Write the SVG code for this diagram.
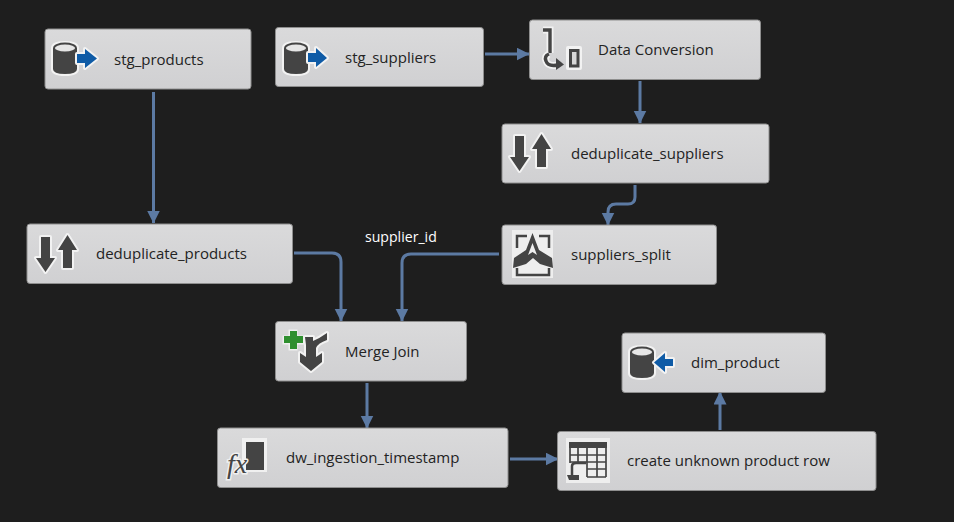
<svg xmlns="http://www.w3.org/2000/svg" xmlns:xlink="http://www.w3.org/1999/xlink" width="954" height="522" viewBox="0 0 954 522">
<style>
.box{fill:url(#bg);stroke:#8e8e8e;stroke-width:1}
.t{font-family:"Open Sans","Noto Sans","Liberation Sans",sans-serif;font-size:15px;fill:#232323}
.l{font-family:"Open Sans","Noto Sans","Liberation Sans",sans-serif;font-size:14.1px;fill:#ffffff}
.c{fill:none;stroke:#5c7aa3;stroke-width:3;marker-end:url(#a)}
.h{fill:#f2f2f2;stroke:#f2f2f2;stroke-width:4;stroke-linejoin:round}
.hl{fill:none;stroke:#f2f2f2;stroke-width:7}
.d{fill:#444444}
.dl{fill:none;stroke:#444444;stroke-width:3.4}
.g{fill:none;stroke:#444444;stroke-width:1.7}
.s{fill:none;stroke:#444444;stroke-width:2.5}
.b{fill:#0f5ba6}
</style>
<defs>
<linearGradient id="bg" x1="0" y1="0" x2="0" y2="1"><stop offset="0" stop-color="#dadadb"/><stop offset="1" stop-color="#d0d0d2"/></linearGradient>
<marker id="a" markerUnits="userSpaceOnUse" markerWidth="14" markerHeight="14" refX="12.5" refY="6.5" orient="auto"><path d="M0 0L13 6.5L0 13z" fill="#5c7aa3"/></marker>
<g id="cyl">
<path class="h" d="M0 5Q0 0 12 0Q24 0 24 5V26Q24 31 12 31Q0 31 0 26z"/>
<path class="d" d="M0 5H24V26Q24 31 12 31Q0 31 0 26z"/>
<ellipse cx="12" cy="5" rx="11" ry="4.500" fill="#e6e6e6" stroke="#444444" stroke-width="1.800"/>
</g>
<g id="updown">
<path class="h" d="M7 1H16V22H21L11.500 36L2 22H7z"/><path class="h" d="M29 32H38V14H43L33.500 -1L24 14H29z"/>
<path class="d" d="M7 1H16V22H21L11.500 36L2 22H7z"/><path class="d" d="M29 32H38V14H43L33.500 -1L24 14H29z"/>
</g>
</defs>
<rect width="954" height="522" fill="#1e1e1e"/>
<g id="connectors">
<path class="c" d="M153.500 92V223"/>
<path class="c" d="M485 54H529"/>
<path class="c" d="M640 81V123"/>
<path class="c" d="M635 185V197Q635 204 628 204H616Q608 204 608 212V225"/>
<path class="c" d="M294 253H332Q341 253 341 262V321"/>
<path class="c" d="M499 254H411Q402 254 402 263V321"/>
<path class="c" d="M367 383V428"/>
<path class="c" d="M510 459H558"/>
<path class="c" d="M720 430V392"/>
</g>
<text class="l" x="365" y="242">supplier_id</text>
<g id="stg_products">
<rect class="box" x="45" y="29" width="206" height="60" rx="3"/>
<use xlink:href="#cyl" x="53" y="43"/>
<path class="h" d="M77 54H85V49L97 58.500L85 68V63H77z"/><path class="b" d="M77 54H85V49L97 58.500L85 68V63H77z"/>
<text class="t" x="114" y="65">stg_products</text>
</g>
<g id="stg_suppliers">
<rect class="box" x="275.500" y="27.500" width="208" height="59" rx="3"/>
<use xlink:href="#cyl" x="284" y="43"/>
<path class="h" d="M308 53H316V48L327 58L316 67V62H308z"/><path class="b" d="M308 53H316V48L327 58L316 67V62H308z"/>
<text class="t" x="345" y="63">stg_suppliers</text>
</g>
<g id="data_conversion">
<rect class="box" x="529.500" y="20" width="231" height="59.500" rx="3"/>
<path class="hl" d="M543 30H550V53"/><rect class="h" x="568" y="48" width="12" height="20"/>
<path class="dl" d="M543 30H550V53"/>
<path class="hl" d="M549 54Q544 56 546 61Q548 67 558 65"/>
<path class="dl" d="M549 54Q544 56 546 61Q548 67 558 65"/><path class="d" d="M556 58L564 64.500L556 70z"/>
<rect x="570.500" y="50.500" width="7.500" height="15.500" fill="#d8d8d8" stroke="#444444" stroke-width="3"/>
<text class="t" x="598" y="55">Data Conversion</text>
</g>
<g id="deduplicate_suppliers">
<rect class="box" x="502" y="124" width="267" height="59" rx="3"/>
<use xlink:href="#updown" x="508" y="135"/>
<text class="t" x="571" y="159">deduplicate_suppliers</text>
</g>
<g id="deduplicate_products">
<rect class="box" x="27" y="224" width="265.500" height="59.500" rx="3"/>
<use xlink:href="#updown" x="34" y="236"/>
<text class="t" x="96" y="259">deduplicate_products</text>
</g>
<g id="suppliers_split">
<rect class="box" x="502" y="225" width="214.500" height="59.500" rx="3"/>
<rect x="512" y="230" width="41" height="48" fill="#eeeeee"/>
<path class="s" d="M527 236H517V248M539 236H549V248M517 268V275H549V268"/>
<path class="d" d="M532.500 233L539 250L552 258L553 268L540 264L533 258L526 264L513 268L514 258L526 250z"/>
<path d="M532.500 243L528 255L532.500 252L537 255z" fill="#eeeeee"/>
<text class="t" x="571" y="260">suppliers_split</text>
</g>
<g id="merge_join">
<rect class="box" x="275.500" y="321.500" width="191" height="59.500" rx="3"/>
<path class="h" d="M305 337H313V341Q320 338 327 333V340Q318 343 316 348V357L322 353V362L311 371L300 362V353L306 357V345z"/>
<path class="d" d="M305 337H313V341Q320 338 327 333V340Q318 343 316 348V357L322 353V362L311 371L300 362V353L306 357V345z"/>
<path fill="#f0f0f0" stroke="#f0f0f0" stroke-width="3" d="M290 331H296V337H303V343H296V349H290V343H284V337H290z"/>
<path fill="#2f8f2f" d="M290 331H297V336H303V343H297V349H290V343H284V336H290z"/>
<text class="t" x="345" y="357">Merge Join</text>
</g>
<g id="dw_ingestion_timestamp">
<rect class="box" x="217.500" y="428" width="290.500" height="59.500" rx="3"/>
<rect x="242" y="438" width="25" height="34" fill="#f0f0f0"/>
<rect x="246" y="442" width="18" height="28" fill="#444444"/>
<text x="227" y="473" font-family="Liberation Serif,serif" font-style="italic" font-size="28" fill="#444444" stroke="#f0f0f0" stroke-width="3" paint-order="stroke">fx</text>
<text class="t" x="286" y="463">dw_ingestion_timestamp</text>
</g>
<g id="create_unknown_product_row">
<rect class="box" x="557.500" y="431.500" width="318.500" height="59" rx="3"/>
<rect x="566" y="438" width="44" height="45" fill="#eeeeee"/>
<path class="d" d="M569 442H607V448H569z"/>
<path class="g" d="M570 448V463M578 448V463M587 448V477M597 448V477M606 448V477M570 455H606M570 462H606M587 469H606M587 477H606"/>
<rect x="566" y="463" width="20" height="20" fill="#eeeeee"/>
<path class="s" d="M572 475V466Q572 463 576 463H586"/>
<path class="d" d="M567 475H579V480H569z"/>
<text class="t" x="627" y="466">create unknown product row</text>
</g>
<g id="dim_product">
<rect class="box" x="622" y="333" width="203.500" height="59.500" rx="3"/>
<use xlink:href="#cyl" x="630" y="347"/>
<path class="h" d="M673 359H665V353L654 362.500L665 372V366H673z"/><path class="b" d="M673 359H665V353L654 362.500L665 372V366H673z"/>
<text class="t" x="691" y="368">dim_product</text>
</g>
</svg>
